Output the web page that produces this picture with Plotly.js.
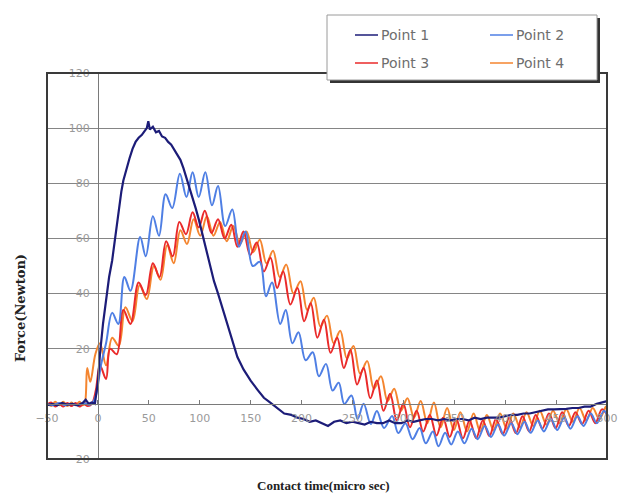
<!DOCTYPE html>
<html>
<head>
<meta charset="utf-8">
<script src="https://cdn.plot.ly/plotly-3.0.1.min.js"></script>
<style>html,body{margin:0;padding:0;background:#fff;}#chart{width:621px;height:495px;}</style>
</head>
<body>
<div id="chart"></div>
<script>
// ---- data ----
const seriesNames = ["Point 1", "Point 2", "Point 3", "Point 4"];
const xTicks = [-50, 0, 50, 100, 150, 200, 250, 300, 350, 400, 450, 500];
const yTicks = [-20, 20, 40, 60, 80, 100, 120];

const p1Time = [-50,-45,-40,-35,-30,-25,-20,-15,-12,-9,-6,-3,
  0,2,5,8,11,14,17,20,23,25,
  28,31,34,37,40,43,46,48,49.5,51,
  54,57,60,63,66,69,72,75,78,81,
  84,87,90,93,96,99,102,106,110,114,
  118,122,126,130,134,137,143,150,157,163,
  169,176,183,190,196,202,208,214,220,226,
  232,238,244,250,256,262,268,274,280,286,
  292,298,304,310,316,322,328,334,340,346,
  352,358,364,370,376,382,388,394,400,406,
  412,418,424,430,436,442,448,454,460,466,
  472,478,484,490,496,500];
const p1Force = [-0.5,0,-0.5,0.3,-0.3,0,-0.5,0.3,1.5,0,0.5,0,
  8,18,29,38,46,52,61,70,77,81,
  85.5,89,92.5,95,96.5,97.5,99,100,102.5,99.5,
  100.5,98.5,99,97,96.5,95,94,92,90,88.5,
  85.5,82,78.5,75,71,67,62.5,57,50.5,44.5,
  40,35,30.5,25.5,20.5,17,12.5,8.4,5,2.2,
  0.5,-1.5,-3.5,-4,-5,-5.5,-6.5,-6,-7,-8,
  -6.5,-6,-7,-6.5,-7,-7.5,-6.5,-7,-7,-6,
  -7,-7,-6,-6.5,-6,-5.5,-5.5,-6,-5.5,-6,
  -5.5,-5.5,-6,-5,-5.5,-5,-5,-5,-4.5,-4,
  -4,-3.5,-3.5,-3,-2.5,-2,-2,-2,-1.8,-1.5,
  -1.5,-1,-1,0,0.5,1];

const p2Time = [-50,-44,-38,-32,-26,-20,-14,-9,-6,
  -2,3,8,14,20,26,32,41.5,47,54,
  60,66.5,73,80.5,87,93,99,105.5,112,118,
  125,132,138.5,145,152,159,165,171,179,184.5,
  191,197,204,211,217,224,230.5,236.5,242,249,
  255,261,268,274,281,289,295,302,309,316,
  322,329,334.5,341,347,353.5,360,367,373,380,
  386,393,399,406,412,419,425,432,438,445,
  451,458,464,471,477,484,490,497,500];
const p2Force = [0,-0.5,0.3,-0.5,0,-0.5,0.3,-0.3,0,
  3,14,22,33,29,46,41,60.5,53.5,68,
  61,76,71,83.5,75,84,75,84,72,79,
  64.5,70.5,57,62.5,50,51.5,39,44,29,34,
  22,26,15.8,18.7,10,14.5,4.8,7.7,0,3,
  -5.5,0,-7.3,-2.6,-8.8,-4.4,-10.6,-7,-12.8,-8.8,
  -14.3,-10,-15.4,-10.5,-14.7,-10,-14.3,-9,-12.8,-8,
  -12,-7.5,-11.5,-7,-11,-6.5,-10.5,-6,-10,-5.5,
  -9.5,-5,-9,-4.5,-8,-3.5,-7,-2.5,-4];

const p3Time = [-50,-46,-42,-38,-34,-30,-26,-22,-18,-14,-10,-6,
  -2,2,8,12,18.5,25,32,40,47,54,
  60.5,67,73.5,80,86.5,93,99,105,111.5,118,
  124.5,131,137,143,149.5,156,163,169.5,176,182,
  189,196,202.5,209,215.5,222,228.5,235,241.5,248,
  254.5,261,267.5,274,280.5,287,293.5,300,306.5,313,
  319.5,326,332.5,339,345.5,352,358.5,365,371.5,378,
  384.5,391,397.5,404,410.5,417,423.5,430,436.5,443,
  449.5,456,462.5,469,475.5,482,488.5,495,500];
const p3Force = [-0.5,0.5,-1,0,-1,0.3,-0.8,0.3,-1,0,-0.8,0,
  5,14,9,20,18,34,29,44,39.5,51,
  46,59,53.5,66,61.5,69.5,64,70,62,67,
  60,65,57,62.5,54,58.5,48,53,42,48,
  36,42,30,36.5,24,30.5,18.5,24,13,19.5,
  7,13,2,8.5,-2.5,3.7,-6,0,-8.5,-2.5,
  -10,-4,-11.5,-5,-12,-5.5,-12.5,-6,-12.5,-6,
  -11.7,-5.5,-11,-5,-10.6,-4.5,-10,-4,-9,-3.5,
  -8.8,-3,-8,-3,-7.3,-2.5,-7,-2,-4];

const p4Time = [-50,-46,-42,-38,-34,-30,-26,-22,-18,-15,-13,
  -10.5,-7.5,-2.5,2,8,14,20.5,27,34,41,
  48,55,61.5,68,74.5,81,87.5,94,100.5,107,
  113.5,120,126.5,133,139.5,146,152.5,159,165.5,172,
  178.5,185,192,199,205.5,212,218.5,225,231.5,238,
  244.5,251,257.5,264.5,271,278,284.5,291,297.5,304,
  310.5,317,323.5,330,336.5,343,349.5,356,362.5,369,
  375.5,382,388.5,395,401.5,408,414.5,421,427.5,434,
  440.5,447,453.5,460,466.5,473,479.5,486,492.5,499,
  500];
const p4Force = [0.5,-0.8,0.8,-0.5,0.8,-0.8,0.5,-0.5,0.8,-0.5,0,
  13,8,18,22,14,24,21,35,30,43,
  38,50,45,57.5,51,63,58,67,61,68,
  61,66,59,64.5,58,62.5,55,59.5,51,55.5,
  46,50.5,40,44.5,34,38.5,28,32,22,26.5,
  16.5,21,11,15.5,5.5,10,1,5.5,-2.5,2,
  -5,1,-7,0.5,-8.5,-1.5,-9.5,-3,-10,-3.5,
  -10,-4,-9.5,-3.5,-9,-3.5,-8.5,-3,-8,-2.5,
  -7.5,-2.5,-7,-2,-6.5,-1.5,-6,-1.5,-5.5,-1,
  -2.5];

// ---- style ----
const colors = ["#1c1c78", "#4f7fe4", "#ea2a2a", "#f4852f"];
const W = 621, H = 495, L = 47, R = 607, T = 73, B = 459;
const px2x = p => (p - L) / (R - L);
const px2y = p => (B - p) / (B - T);

const times = [p1Time, p2Time, p3Time, p4Time];
const forces = [p1Force, p2Force, p3Force, p4Force];

const traces = [];
[3, 2, 1, 0].forEach(i => {
  traces.push({
    x: times[i], y: forces[i], name: seriesNames[i], type: "scatter", mode: "lines",
    line: { color: colors[i], width: i === 0 ? 2.2 : 2, shape: i === 0 ? "linear" : "spline", smoothing: 1 },
    showlegend: false, hoverinfo: "skip"
  });
});

const shapes = [
  { type: "rect", xref: "paper", yref: "paper", x0: 0, x1: 1, y0: 0, y1: 1,
    line: { color: "#3a3a3a", width: 2 }, layer: "above" },
  // legend shadow and box
  { type: "rect", xref: "paper", yref: "paper", x0: px2x(330), x1: px2x(600), y0: px2y(83), y1: px2y(18),
    fillcolor: "#333", line: { width: 0 }, layer: "above" },
  { type: "rect", xref: "paper", yref: "paper", x0: px2x(327), x1: px2x(597), y0: px2y(80), y1: px2y(15),
    fillcolor: "#fff", line: { color: "#9a9a9a", width: 1 }, layer: "above" }
];
const annotations = [];
const legPos = [[355, 35], [490, 35], [355, 63], [490, 63]];
seriesNames.forEach((n, i) => {
  const [lx, ly] = legPos[i];
  shapes.push({ type: "line", xref: "paper", yref: "paper", x0: px2x(lx), x1: px2x(lx + 23),
    y0: px2y(ly), y1: px2y(ly), line: { color: colors[i], width: 1.5 }, layer: "above" });
  annotations.push({ xref: "paper", yref: "paper", x: px2x(lx + 24), y: px2y(ly),
    xanchor: "left", yanchor: "middle", showarrow: false, text: n,
    font: { family: "DejaVu Sans", size: 14, color: "#6e6e6e" } });
});
annotations.push({ xref: "paper", yref: "paper", x: px2x(20), y: px2y(308), textangle: -90,
  showarrow: false, text: "Force(Newton)", xanchor: "center", yanchor: "middle",
  font: { family: "DejaVu Serif", size: 13, color: "#222", weight: "bold" } });
annotations.push({ xref: "paper", yref: "paper", x: px2x(323), y: px2y(485),
  showarrow: false, text: "Contact time(micro sec)", xanchor: "center", yanchor: "middle",
  font: { family: "Liberation Serif", size: 13, color: "#222", weight: "bold" } });

const tickFont = { family: "DejaVu Sans", size: 11, color: "#9a9a9a" };
const layout = {
  width: W, height: H,
  margin: { l: L, r: W - R, t: T, b: H - B, pad: 0 },
  paper_bgcolor: "#fff", plot_bgcolor: "#fff",
  showlegend: false,
  xaxis: {
    range: [-50, 500], tickvals: xTicks, anchor: "free", position: 20 / 140,
    showgrid: false, zeroline: false, showline: true, linecolor: "#7a7a7a", linewidth: 1,
    ticks: "inside", ticklen: 4, tickcolor: "#7a7a7a", tickfont: tickFont, ticklabelstandoff: 4
  },
  yaxis: {
    range: [-20, 120], tickvals: yTicks, anchor: "free", position: 50 / 550,
    showgrid: true, gridcolor: "#858585", gridwidth: 1, zeroline: false,
    showline: true, linecolor: "#7a7a7a", linewidth: 1, ticks: "", tickfont: tickFont,
    ticklabelstandoff: 6
  },
  shapes: shapes, annotations: annotations
};
Plotly.newPlot("chart", traces, layout, { staticPlot: true, displayModeBar: false });
</script>
</body>
</html>
